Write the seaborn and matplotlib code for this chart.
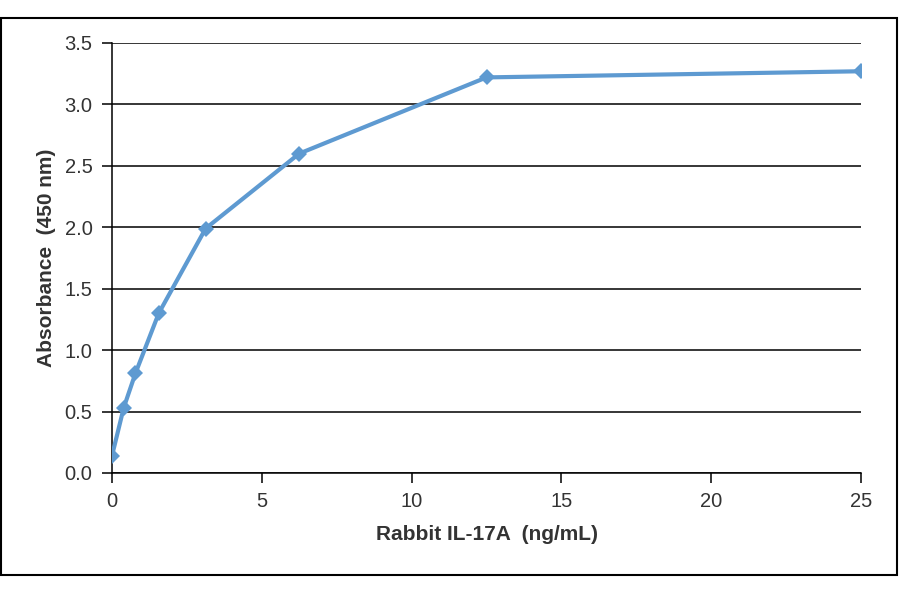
import matplotlib
matplotlib.use("Agg")
import matplotlib.pyplot as plt
import seaborn as sns
import pandas as pd
from matplotlib.patches import Rectangle

concentration = [0, 0.39, 0.78, 1.56, 3.125, 6.25, 12.5, 25]
absorbance = [0.14, 0.53, 0.81, 1.30, 1.99, 2.60, 3.22, 3.27]
x_ticks = [0, 5, 10, 15, 20, 25]
y_ticks = [0.0, 0.5, 1.0, 1.5, 2.0, 2.5, 3.0, 3.5]

df = pd.DataFrame({"conc": concentration, "abs": absorbance})

sns.set_theme(style="white")
plt.rcParams["font.family"] = ["Liberation Sans", "DejaVu Sans"]

fig = plt.figure(figsize=(9, 5.94), dpi=100)
ax = fig.add_axes([112/900, 1-473/594, (861-112)/900, (473-43)/594])

sns.lineplot(data=df, x="conc", y="abs", ax=ax, color="#5E9AD1", linewidth=3.0,
             marker="D", markersize=8.5, markeredgewidth=0, markerfacecolor="#5E9AD1",
             solid_joinstyle="round", solid_capstyle="round", zorder=5)

ax.set_xlim(0, 25)
ax.set_ylim(0, 3.5)
ax.set_xticks(x_ticks)
ax.set_yticks(y_ticks)
ax.set_yticklabels([f"{v:.1f}" for v in y_ticks])
ax.set_xticklabels([str(v) for v in x_ticks])
ax.yaxis.grid(True, color="black", linewidth=1.1)
ax.set_axisbelow(True)
for s in ["top", "right"]:
    ax.spines[s].set_visible(False)
for s in ["left", "bottom"]:
    ax.spines[s].set_color("black")
    ax.spines[s].set_linewidth(1.1)
ax.tick_params(axis="both", which="major", direction="out", length=7, width=1.1,
               color="black", labelsize=14.5, labelcolor="#333333",
               left=True, bottom=True)
ax.tick_params(axis="y", pad=7)
ax.tick_params(axis="x", pad=7)

ax.set_xlabel("Rabbit IL-17A  (ng/mL)", fontsize=15, fontweight="bold", color="#333333", labelpad=10)
ax.set_ylabel("Absorbance  (450 nm)", fontsize=15, fontweight="bold", color="#333333", labelpad=6)

fig.patches.append(Rectangle((1/900, 1-575/594), 896/900, (575-18)/594,
                             transform=fig.transFigure, fill=False,
                             edgecolor="black", linewidth=1.5))

fig.savefig("out.png", dpi=100, facecolor="white")
